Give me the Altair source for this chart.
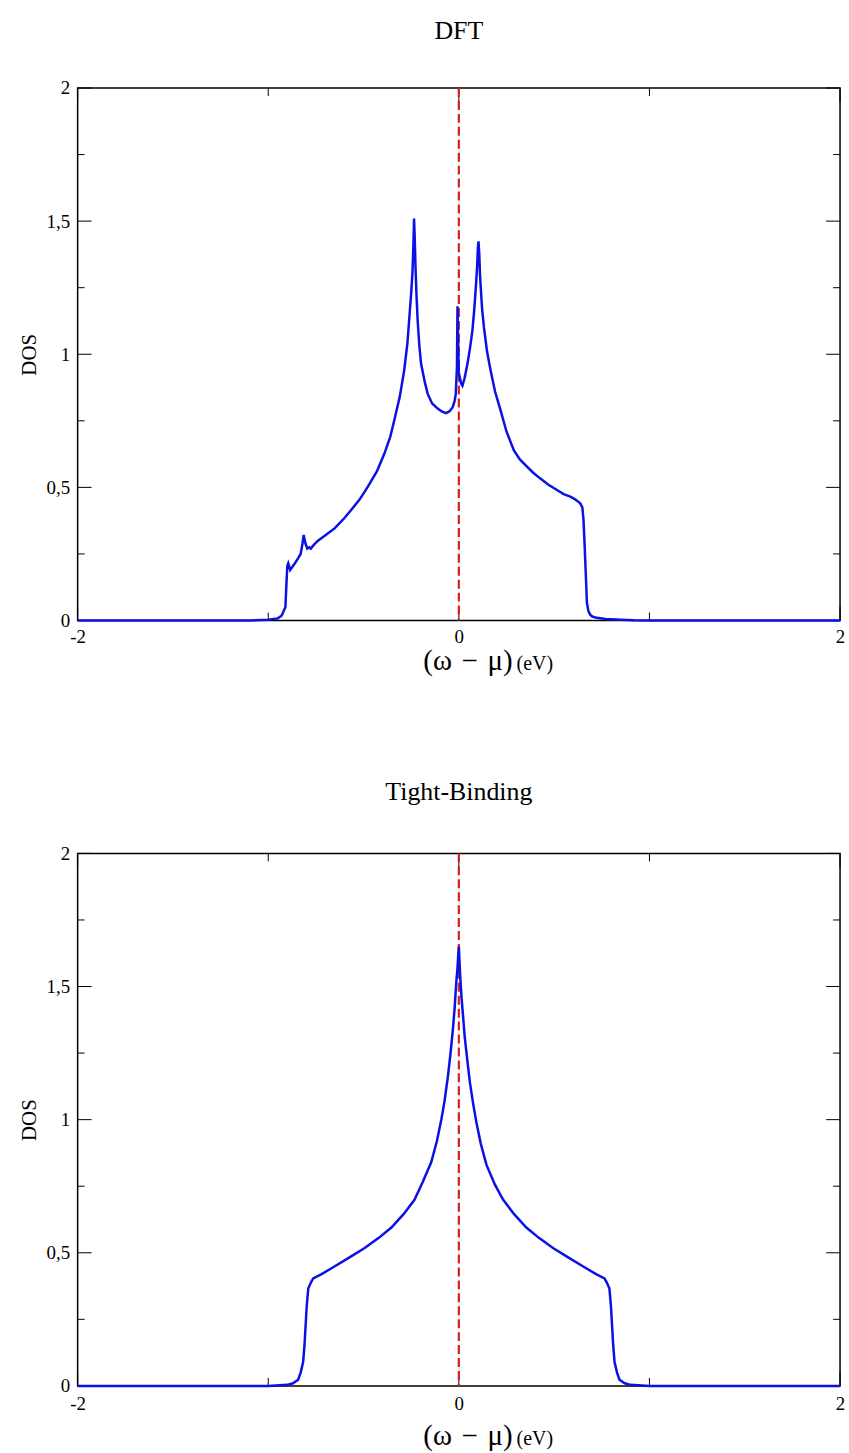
import altair as alt
import pandas as pd

FONT = "Liberation Serif"
BLUE = "#0a10e6"
RED = "#d42020"
W, H = 766, 535

# ---------------- data ----------------
dft_e = [-2.0, -1.1, -1.0, -0.95, -0.93, -0.91, -0.905, -0.90, -0.895, -0.885,
         -0.875, -0.86, -0.843, -0.83, -0.82, -0.814, -0.805, -0.795, -0.785, -0.777,
         -0.76, -0.739, -0.70, -0.652, -0.60, -0.565, -0.52, -0.478, -0.43, -0.391,
         -0.36, -0.339, -0.31, -0.287, -0.27, -0.261, -0.25, -0.243, -0.238, -0.235,
         -0.232, -0.227, -0.222, -0.216, -0.207, -0.198, -0.18, -0.164, -0.14, -0.111,
         -0.09, -0.068, -0.05, -0.033, -0.022, -0.016, -0.01, -0.007, -0.004, 0.0,
         0.005, 0.012, 0.019, 0.03, 0.045, 0.058, 0.071, 0.08, 0.089, 0.096,
         0.100, 0.103, 0.107, 0.111, 0.115, 0.122, 0.132, 0.148, 0.167, 0.19,
         0.219, 0.25, 0.289, 0.32, 0.359, 0.39, 0.428, 0.47, 0.515, 0.55,
         0.585, 0.61, 0.637, 0.648, 0.654, 0.659, 0.663, 0.668, 0.672, 0.68,
         0.689, 0.70, 0.724, 0.77, 0.85, 0.92, 1.0, 2.0]
dft_dos = [0.0, 0.0, 0.003, 0.008, 0.018, 0.05, 0.13, 0.205, 0.215, 0.19,
           0.2, 0.215, 0.234, 0.25, 0.29, 0.321, 0.29, 0.27, 0.275, 0.27,
           0.285, 0.30, 0.32, 0.346, 0.385, 0.415, 0.455, 0.502, 0.56, 0.626,
           0.69, 0.751, 0.84, 0.938, 1.04, 1.125, 1.23, 1.311, 1.42, 1.51,
           1.45, 1.32, 1.22, 1.125, 1.03, 0.964, 0.90, 0.852, 0.815, 0.796,
           0.785, 0.779, 0.785, 0.80, 0.825, 0.852, 0.95, 1.18, 1.05, 0.93,
           0.913, 0.89, 0.882, 0.91, 0.963, 1.02, 1.088, 1.16, 1.25, 1.33,
           1.40, 1.424, 1.38, 1.30, 1.25, 1.17, 1.10, 1.01, 0.938, 0.86,
           0.789, 0.71, 0.639, 0.605, 0.577, 0.555, 0.533, 0.51, 0.49, 0.475,
           0.465, 0.455, 0.44, 0.425, 0.378, 0.30, 0.228, 0.14, 0.066, 0.035,
           0.022, 0.015, 0.01, 0.006, 0.003, 0.001, 0.0, 0.0]

tb_e = [-2.0, -1.0, -0.9, -0.87, -0.843, -0.83, -0.817, -0.81, -0.805, -0.798,
        -0.79, -0.775, -0.764, -0.72, -0.668, -0.58, -0.494, -0.42, -0.354, -0.29,
        -0.232, -0.19, -0.145, -0.115, -0.092, -0.075, -0.058, -0.045, -0.031, -0.022,
        -0.014, -0.007, -0.003, 0.0,
        0.003, 0.007, 0.014, 0.022, 0.031, 0.045, 0.058, 0.075, 0.092, 0.115,
        0.145, 0.19, 0.232, 0.29, 0.354, 0.42, 0.494, 0.58, 0.668, 0.72,
        0.764, 0.775, 0.79, 0.798, 0.805, 0.81, 0.817, 0.83, 0.843, 0.87,
        0.9, 1.0, 2.0]
tb_dos = [0.0, 0.0, 0.004, 0.01, 0.023, 0.05, 0.09, 0.15, 0.213, 0.3,
          0.366, 0.39, 0.404, 0.42, 0.442, 0.48, 0.518, 0.556, 0.595, 0.645,
          0.70, 0.765, 0.84, 0.92, 1.0, 1.07, 1.159, 1.24, 1.341, 1.42,
          1.51, 1.57, 1.62, 1.65,
          1.60, 1.54, 1.46, 1.39, 1.31, 1.22, 1.14, 1.06, 0.99, 0.91,
          0.83, 0.755, 0.70, 0.645, 0.595, 0.556, 0.518, 0.48, 0.442, 0.42,
          0.404, 0.39, 0.366, 0.3, 0.213, 0.15, 0.09, 0.05, 0.023, 0.01,
          0.004, 0.0, 0.0]

x_labels = [-2, 0, 2]
x_minor = [-1, 1]
y_labels = [0, 0.5, 1, 1.5, 2]
y_minor = [0.25, 0.75, 1.25, 1.75]
fermi_level = [0.0]

XSCALE = alt.Scale(domain=[-2, 2], nice=False, zero=False)
YSCALE = alt.Scale(domain=[0, 2], nice=False, zero=False)


def panel(e, dos, title, label_pad, xt_base, title_offset):
    xaxis = alt.Axis(values=x_labels, ticks=False, domain=False, grid=False,
                     labelFont=FONT, labelFontSize=19, labelColor="black",
                     labelPadding=label_pad, labelFlush=False,
                     labelExpr="datum.value < 0 ? '-' + abs(datum.value) : '' + datum.value",
                     title=None)
    yaxis = alt.Axis(values=y_labels, ticks=False, domain=False, grid=False,
                     labelFont=FONT, labelFontSize=19, labelColor="black",
                     labelPadding=8,
                     labelExpr="replace(format(datum.value, '~g'), '.', ',')",
                     title="DOS", titleFont=FONT, titleFontSize=21,
                     titleFontWeight="normal", titleColor="black", titlePadding=7)
    df = pd.DataFrame({"e": e, "dos": dos})
    curve = alt.Chart(df).mark_line(color=BLUE, strokeWidth=2.5).encode(
        x=alt.X("e:Q", scale=XSCALE, axis=xaxis),
        y=alt.Y("dos:Q", scale=YSCALE, axis=yaxis),
    )
    fermi = alt.Chart(pd.DataFrame({"e": fermi_level})).mark_rule(
        color=RED, strokeWidth=2.2, strokeDash=[9, 4]).encode(
        x=alt.X("e:Q", scale=XSCALE, axis=xaxis), y=alt.value(0), y2=alt.value(H))

    def yticks(vals, length, side):
        a, b = (0, length) if side == "left" else (W - length, W)
        return alt.Chart(pd.DataFrame({"dos": vals})).mark_rule(
            color="black", strokeWidth=1).encode(
            y=alt.Y("dos:Q", scale=YSCALE, axis=yaxis), x=alt.value(a), x2=alt.value(b))

    def xticks(vals, length, side):
        a, b = (H - length, H) if side == "bottom" else (0, length)
        return alt.Chart(pd.DataFrame({"e": vals})).mark_rule(
            color="black", strokeWidth=1).encode(
            x=alt.X("e:Q", scale=XSCALE, axis=xaxis), y=alt.value(a), y2=alt.value(b))

    ticks = [yticks(y_labels, 14, "left"), yticks(y_minor, 7, "left"),
             yticks(y_labels, 14, "right"), yticks(y_minor, 7, "right"),
             xticks(x_labels, 14, "bottom"), xticks(x_minor, 8, "bottom"),
             xticks(x_labels, 14, "top"), xticks(x_minor, 8, "top")]

    t_main = alt.Chart(pd.DataFrame({"t": ["(ω\u2004−\u2004μ)"]})).mark_text(
        font=FONT, fontSize=29, align="right", baseline="alphabetic", color="black").encode(
        x=alt.value(437), y=alt.value(H + xt_base), text="t:N")
    t_unit = alt.Chart(pd.DataFrame({"t": ["(eV)"]})).mark_text(
        font=FONT, fontSize=20, align="left", baseline="alphabetic", color="black").encode(
        x=alt.value(441), y=alt.value(H + xt_base), text="t:N")

    return alt.layer(*ticks, fermi, curve, t_main, t_unit).properties(
        width=W, height=H,
        view=alt.ViewBackground(stroke="black", strokeWidth=1.5, fill="white"),
        title=alt.TitleParams(title, font=FONT, fontSize=26, fontWeight="normal",
                              color="black", offset=title_offset, anchor="middle"))


top = panel(dft_e, dft_dos, "DFT", 7, 50, 35)
bottom = panel(tb_e, tb_dos, "Tight-Binding", 9, 59, 40)

chart = alt.vconcat(top, bottom, spacing=101).properties(
    padding={"left": 17, "right": 3, "top": 14, "bottom": 0},
    background="white",
).configure_view(stroke="black", strokeWidth=1.5)

chart.save("out.html", embed_options={"renderer": "svg", "actions": False})
